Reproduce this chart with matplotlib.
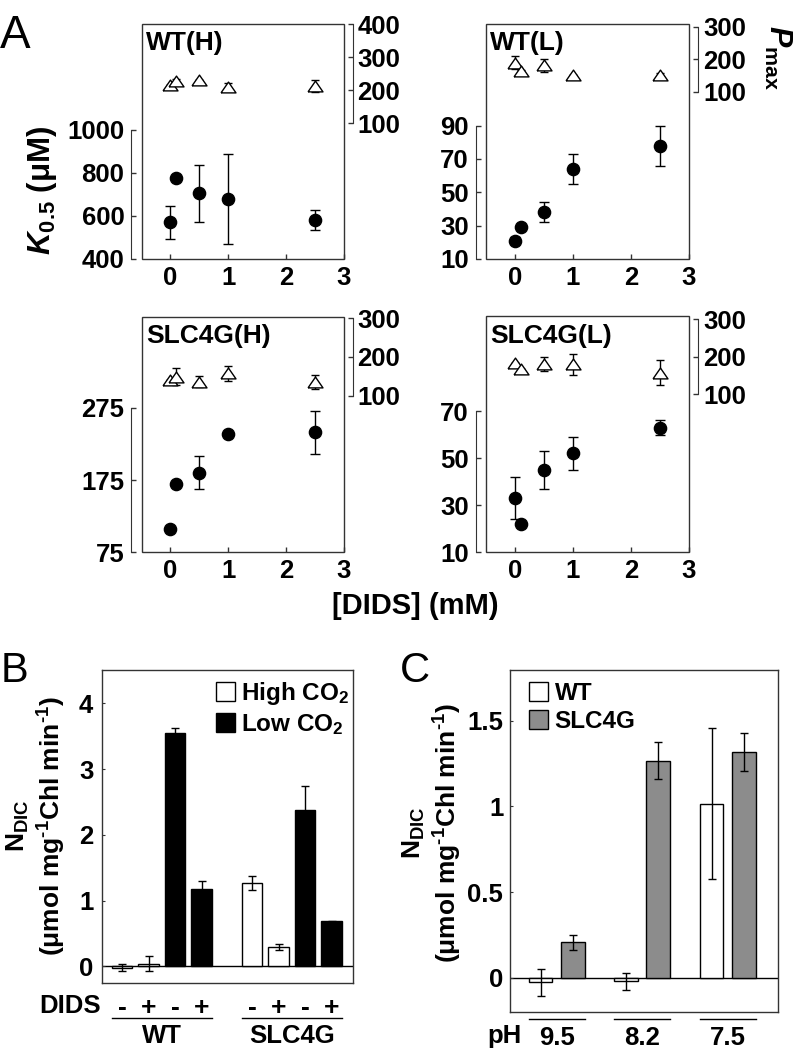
import numpy as np
import matplotlib
matplotlib.use('Agg')
import matplotlib.pyplot as plt
from matplotlib.patches import Patch
import matplotlib.transforms as mtransforms

plt.rcParams['font.family'] = ['Liberation Sans', 'DejaVu Sans']
plt.rcParams['font.weight'] = 'bold'
plt.rcParams['mathtext.fontset'] = 'custom'
plt.rcParams['mathtext.rm'] = 'Liberation Sans'
plt.rcParams['mathtext.it'] = 'Liberation Sans:italic'
plt.rcParams['mathtext.bf'] = 'Liberation Sans:bold'
plt.rcParams['mathtext.bfit'] = 'Liberation Sans:italic:bold'
plt.rcParams['mathtext.default'] = 'bf'

# ---------------- data ----------------
dids_mM = [0, 0.1, 0.5, 1, 2.5]

k05_wt_h = [570, 775, 705, 680, 583]
k05_wt_h_err = [77, 0, 132, 210, 47]
pmax_wt_h = [217, 229, 232, 211, 212]
pmax_wt_h_err = [0, 5, 0, 12, 18]

k05_wt_l = [21, 29, 38, 64, 78]
k05_wt_l_err = [2, 0, 6, 9, 12]
pmax_wt_l = [189, 162, 181, 150, 152]
pmax_wt_l_err = [21, 5, 20, 0, 5]

k05_slc_h = [107, 169, 185, 238, 241]
k05_slc_h_err = [0, 0, 23, 0, 30]
pmax_slc_h = [141, 149, 136, 158, 136]
pmax_slc_h_err = [0, 22, 15, 19, 18]

k05_slc_l = [33, 22, 45, 52, 63]
k05_slc_l_err = [9, 0, 8, 7, 3]
pmax_slc_l = [184, 167, 180, 180, 158]
pmax_slc_l_err = [0, 0, 19, 28, 34]

titles_A = ['WT(H)', 'WT(L)', 'SLC4G(H)', 'SLC4G(L)']

groups_B = ['WT', 'SLC4G']
dids_signs_B = ['-', '+', '-', '+']
co2_B = ['High', 'High', 'Low', 'Low']
ndic_B = [-0.02, 0.04, 3.55, 1.17, 1.27, 0.29, 2.38, 0.685]
ndic_B_err = [0.05, 0.12, 0.07, 0.13, 0.11, 0.05, 0.36, 0.01]

ph_C = ['9.5', '8.2', '7.5']
ndic_wt_C = [-0.027, -0.02, 1.017]
ndic_wt_C_err = [0.08, 0.05, 0.44]
ndic_slc_C = [0.207, 1.268, 1.32]
ndic_slc_C_err = [0.045, 0.11, 0.11]

# ---------------- layout helpers ----------------
W, H = 801, 1049
fig = plt.figure(figsize=(W / 100, H / 100), dpi=100)
EDGE = '#333333'
TICK_FS = 18.5


def rect(x0, y0, x1, y1):
    return [x0 / W, 1 - y1 / H, (x1 - x0) / W, (y1 - y0) / H]


def ftext(x, y, s, **kw):
    return fig.text(x / W, 1 - y / H, s, **kw)


TRI = [(-1, -0.72), (1, -0.72), (0, 0.72), (-1, -0.72)]


def panel_a(box, title, k, kerr, p, perr, klim, kticks, plim, pticks, title_dy):
    x0, y0, x1, y1 = box
    ax = fig.add_axes(rect(*box))
    ax.patch.set_edgecolor(EDGE)
    ax.patch.set_linewidth(1.0)
    for s in ['top', 'right', 'bottom']:
        ax.spines[s].set_visible(False)
    ax.spines['left'].set_position(('outward', 7.3))
    ax.spines['left'].set_bounds(kticks[0], kticks[-1])
    ax.spines['left'].set_color(EDGE)
    ax.set_xlim(-0.5, 3)
    ax.set_ylim(*klim)
    ax.set_xticks([0, 1, 2, 3])
    ax.set_yticks(kticks)
    ax.tick_params(axis='both', direction='in', length=3.5, width=1,
                   labelsize=TICK_FS, pad=5, color=EDGE)
    ax.errorbar(dids_mM, k, yerr=kerr, fmt='none', ecolor='black',
                elinewidth=1, capsize=3.5, capthick=1, zorder=2)
    ax.plot(dids_mM, k, 'o', color='black', ms=8.8, zorder=3)

    axr = ax.twinx()
    for s in ['top', 'left', 'bottom']:
        axr.spines[s].set_visible(False)
    axr.spines['right'].set_position(('outward', 6.5))
    axr.spines['right'].set_bounds(pticks[0], pticks[-1])
    axr.spines['right'].set_color(EDGE)
    axr.set_ylim(*plim)
    axr.set_yticks(pticks)
    axr.tick_params(axis='y', direction='in', length=3.5, width=1,
                    labelsize=TICK_FS, pad=3.5, color=EDGE)
    axr.errorbar(dids_mM, p, yerr=perr, fmt='none', ecolor='black',
                 elinewidth=1, capsize=3, capthick=1, zorder=2)
    axr.plot(dids_mM, p, marker=TRI, ls='none', mfc='white', mec='black',
             mew=1, ms=10.8, zorder=3)
    ax.text(0.022, 1 - title_dy / (y1 - y0), title, transform=ax.transAxes,
            fontsize=19, fontweight='bold', va='baseline', ha='left')
    return ax, axr


panel_a((141.5, 24, 343.5, 259), titles_A[0], k05_wt_h, k05_wt_h_err,
        pmax_wt_h, pmax_wt_h_err, (400, 1493), [400, 600, 800, 1000],
        (-310, 400), [100, 200, 300, 400], 26)
panel_a((486, 24, 689, 259), titles_A[1], k05_wt_l, k05_wt_l_err,
        pmax_wt_l, pmax_wt_l_err, (10, 151), [10, 30, 50, 70, 90],
        (-416, 308), [100, 200, 300], 26)
panel_a((141.5, 316.7, 343.5, 552.3), titles_A[2], k05_slc_h, k05_slc_h_err,
        pmax_slc_h, pmax_slc_h_err, (75, 401), [75, 175, 275],
        (-305, 304), [100, 200, 300], 26.6)
panel_a((486, 316, 689, 552), titles_A[3], k05_slc_l, k05_slc_l_err,
        pmax_slc_l, pmax_slc_l_err, (10, 110.5), [10, 30, 50, 70],
        (-318, 308), [100, 200, 300], 27.3)

ftext(0, 48, 'A', fontsize=33, fontweight='normal', va='baseline', ha='left')
ftext(42, 190, r'$\mathbfit{K}_{0.5}$ (μM)', fontsize=22.5, rotation=90,
      ha='center', va='center', fontweight='bold')
ftext(778, 58, r'$\mathbfit{P}_{\mathrm{max}}$', fontsize=22, rotation=270,
      ha='center', va='center')
ftext(415, 614, '[DIDS] (mM)', fontsize=21, ha='center', va='baseline',
      fontweight='bold')

# ---------------- panel B ----------------
axB = fig.add_axes(rect(101.7, 670, 353.3, 983.3))
posB = [i + g * 4.9 for g in range(len(groups_B)) for i in range(len(dids_signs_B))]
colB = ['white' if c == 'High' else 'black' for c in co2_B] * len(groups_B)
wB = 0.77
axB.bar(posB, ndic_B, width=wB, color=colB, edgecolor='black', linewidth=1,
        yerr=ndic_B_err,
        error_kw=dict(elinewidth=1, capsize=3, capthick=1, ecolor='black'),
        zorder=2)
axB.axhline(0, color='black', lw=1, zorder=1)
axB.set_xlim(-0.77, 8.72)
axB.set_ylim(-0.26, 4.51)
axB.set_yticks([0, 1, 2, 3, 4])
axB.set_xticks(posB)
axB.set_xticklabels(dids_signs_B * len(groups_B))
axB.tick_params(axis='y', direction='in', length=2, width=0.8,
                labelsize=TICK_FS, pad=6, color=EDGE)
axB.tick_params(axis='x', length=0, labelsize=19, pad=9.0)
for s in axB.spines.values():
    s.set_color(EDGE)
    s.set_linewidth(1)
transB = mtransforms.blended_transform_factory(axB.transData, axB.transAxes)
for g, name in enumerate(groups_B):
    xs = posB[g * 4:(g + 1) * 4]
    axB.plot([xs[0] - wB / 2, xs[-1] + wB / 2], [-0.1117, -0.1117],
             transform=transB, color='black', lw=1, clip_on=False)
    axB.text((xs[0] + xs[-1]) / 2, -0.1906, name, transform=transB,
             ha='center', va='baseline', fontsize=18.5, fontweight='bold')
ftext(101, 1013, 'DIDS', fontsize=18.5, ha='right', va='baseline',
      fontweight='bold')
axB.legend(handles=[Patch(facecolor='white', edgecolor='black', lw=1),
                    Patch(facecolor='black', edgecolor='black', lw=1)],
           labels=['High CO$_{2}$', 'Low CO$_{2}$'],
           loc='upper left', bbox_to_anchor=(0.453, 0.968),
           frameon=False, fontsize=17.5, handlelength=0.8,
           handleheight=0.8, handletextpad=0.25, labelspacing=0.2,
           borderpad=0, borderaxespad=0)
ftext(1, 681.7, 'B', fontsize=30, fontweight='normal', va='baseline', ha='left')
ylab = 'N$_{\\mathrm{DIC}}$\n(μmol mg$^{\\text{-}1}$Chl min$^{\\text{-}1}$)'
ftext(36, 826, ylab, fontsize=19, rotation=90, ha='center', va='center',
      multialignment='center', linespacing=1.2, fontweight='bold')

# ---------------- panel C ----------------
axC = fig.add_axes(rect(510, 670, 778.3, 1012.3))
xC = np.arange(len(ph_C))
off, wC = 0.188, 0.28
axC.bar(xC - off, ndic_wt_C, width=wC, color='white', edgecolor='black',
        linewidth=1, yerr=ndic_wt_C_err,
        error_kw=dict(elinewidth=1, capsize=3, capthick=1, ecolor='black'),
        label='WT', zorder=2)
axC.bar(xC + off, ndic_slc_C, width=wC, color='#8c8c8c', edgecolor='black',
        linewidth=1, yerr=ndic_slc_C_err,
        error_kw=dict(elinewidth=1, capsize=3, capthick=1, ecolor='black'),
        label='SLC4G', zorder=2)
axC.axhline(0, color='black', lw=1, zorder=1)
axC.set_xlim(-0.545, 2.593)
axC.set_ylim(-0.202, 1.797)
axC.set_yticks([0, 0.5, 1, 1.5])
axC.set_yticklabels(['0', '0.5', '1', '1.5'])
axC.set_xticks(xC)
axC.set_xticklabels(ph_C)
axC.tick_params(axis='y', direction='in', length=2, width=0.8,
                labelsize=TICK_FS, pad=4.8, color=EDGE)
axC.tick_params(axis='x', length=0, labelsize=18.5, pad=10.0)
for s in axC.spines.values():
    s.set_color(EDGE)
    s.set_linewidth(1)
transC = mtransforms.blended_transform_factory(axC.transData, axC.transAxes)
for xc in xC:
    axC.plot([xc - off - wC / 2, xc + off + wC / 2], [-0.0196, -0.0196],
             transform=transC, color='black', lw=1, clip_on=False)
ftext(487, 1042.7, 'pH', fontsize=18.5, ha='left', va='baseline',
      fontweight='bold')
axC.legend(loc='upper left', bbox_to_anchor=(0.071, 0.965), frameon=False,
           fontsize=17.5, handlelength=0.8, handleheight=0.8,
           handletextpad=0.25, labelspacing=0.2, borderpad=0,
           borderaxespad=0)
ftext(400, 681.7, 'C', fontsize=30, fontweight='normal', va='baseline', ha='left')
ftext(432, 833, ylab, fontsize=19, rotation=90, ha='center', va='center',
      multialignment='center', linespacing=1.2, fontweight='bold')

fig.savefig('out.png', dpi=100)
